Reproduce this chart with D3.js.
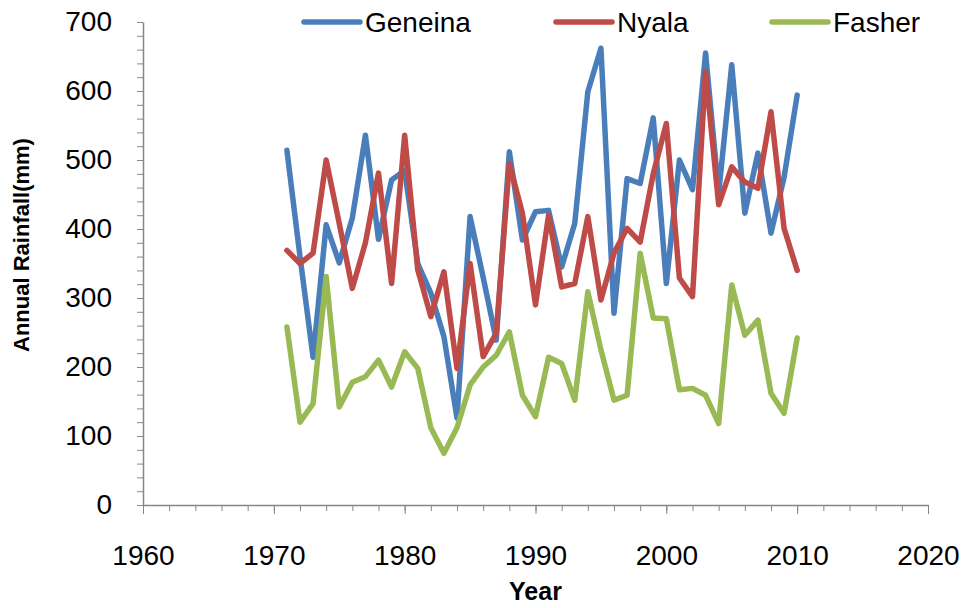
<html lang="en">
<head>
<meta charset="UTF-8">
<title>Annual Rainfall</title>
<script src="https://d3js.org/d3.v7.min.js"></script>
<style>
    body { margin: 0; background: #fff; }
    text { font-family: "Liberation Sans", Arial, sans-serif; fill: #000; }
</style>
</head>
<body>
<svg width="963" height="608"></svg>
<script>
var years = [1971, 1972, 1973, 1974, 1975, 1976, 1977, 1978, 1979, 1980,
             1981, 1982, 1983, 1984, 1985, 1986, 1987, 1988, 1989, 1990,
             1991, 1992, 1993, 1994, 1995, 1996, 1997, 1998, 1999, 2000,
             2001, 2002, 2003, 2004, 2005, 2006, 2007, 2008, 2009, 2010];
var geneina = [514, 360, 214, 406, 351, 416, 536, 385, 471, 485,
               350, 307, 244, 126, 418, 330, 239, 512, 384, 425,
               427, 345, 408, 599, 662, 278, 473, 466, 561, 321,
               500, 457, 655, 452, 638, 423, 510, 394, 475, 594];
var nyala = [369, 350, 365, 500, 408, 314, 380, 481, 321, 536,
             341, 273, 338, 198, 350, 215, 249, 495, 423, 290,
             420, 316, 321, 418, 297, 365, 401, 381, 480, 553,
             329, 302, 628, 435, 490, 468, 459, 570, 401, 340];
var fasher = [258, 120, 147, 331, 142, 178, 186, 210, 171, 222,
              198, 112, 75, 112, 174, 200, 217, 251, 159, 128,
              214, 205, 152, 309, 225, 152, 159, 365, 271, 270,
              167, 169, 159, 118, 319, 246, 268, 162, 133, 242];
var seriesNames = ["Geneina", "Nyala", "Fasher"];
var seriesColors = ["#4a7ebb", "#be4b48", "#98b954"];
var xTicks = [1960, 1970, 1980, 1990, 2000, 2010, 2020];
var yTicks = [0, 100, 200, 300, 400, 500, 600, 700];

var svg = d3.select("svg"),
    marginLeft = 143, marginTop = 22,
    width = 785, height = 483;

var x = d3.scaleLinear().domain([1960, 2020]).range([0, width]),
    y = d3.scaleLinear().domain([0, 700]).range([height, 0]);

var g = svg.append("g").attr("transform", "translate(" + marginLeft + "," + marginTop + ")");

var axisColor = "#868686";

// minor ticks every 2 years / 20 mm
g.append("g")
    .attr("transform", "translate(0," + height + ")")
    .call(d3.axisBottom(x).tickValues(d3.range(1960, 2021, 2)).tickSize(6).tickFormat(""))
    .call(function (a) { a.select(".domain").remove(); a.selectAll("line").attr("stroke", axisColor); });
g.append("g")
    .call(d3.axisLeft(y).tickValues(d3.range(0, 701, 20)).tickSize(6).tickFormat(""))
    .call(function (a) { a.select(".domain").remove(); a.selectAll("line").attr("stroke", axisColor); });

// major axes
var xAxis = g.append("g")
    .attr("transform", "translate(0," + height + ")")
    .call(d3.axisBottom(x).tickValues(xTicks).tickSize(9).tickSizeOuter(0).tickPadding(31).tickFormat(d3.format("d")));
var yAxis = g.append("g")
    .call(d3.axisLeft(y).tickValues(yTicks).tickSize(6).tickSizeOuter(0).tickPadding(25));

[xAxis, yAxis].forEach(function (a) {
    a.select(".domain").attr("stroke", axisColor).attr("stroke-width", 1.5);
    a.selectAll("line").attr("stroke", axisColor);
    a.selectAll("text").style("font-size", "28px").style("font-family", "'Liberation Sans', Arial, sans-serif").attr("fill", "#000");
});

var line = d3.line()
    .x(function (d, i) { return x(years[i]); })
    .y(function (d) { return y(d); });

[geneina, nyala, fasher].forEach(function (s, k) {
    g.append("path")
        .datum(s)
        .attr("fill", "none")
        .attr("stroke", seriesColors[k])
        .attr("stroke-width", 5.5)
        .attr("stroke-linejoin", "round")
        .attr("stroke-linecap", "round")
        .attr("d", line);
});

// legend
var legendX = [304, 556, 772];
seriesNames.forEach(function (name, k) {
    var lg = svg.append("g").attr("transform", "translate(" + legendX[k] + ",22)");
    lg.append("line")
        .attr("x1", 0).attr("x2", 56).attr("y1", 0).attr("y2", 0)
        .attr("stroke", seriesColors[k]).attr("stroke-width", 5.5)
        .attr("stroke-linecap", "round");
    lg.append("text")
        .attr("x", 61).attr("y", 10)
        .style("font-size", "28px")
        .text(name);
});

// axis titles
svg.append("text")
    .attr("x", marginLeft + x(1990)).attr("y", 600)
    .attr("text-anchor", "middle")
    .style("font-size", "25px").style("font-weight", "bold")
    .text("Year");
svg.append("text")
    .attr("transform", "translate(29,245) rotate(-90)")
    .attr("text-anchor", "middle")
    .style("font-size", "22px").style("font-weight", "bold")
    .text("Annual Rainfall(mm)");
</script>
</body>
</html>
